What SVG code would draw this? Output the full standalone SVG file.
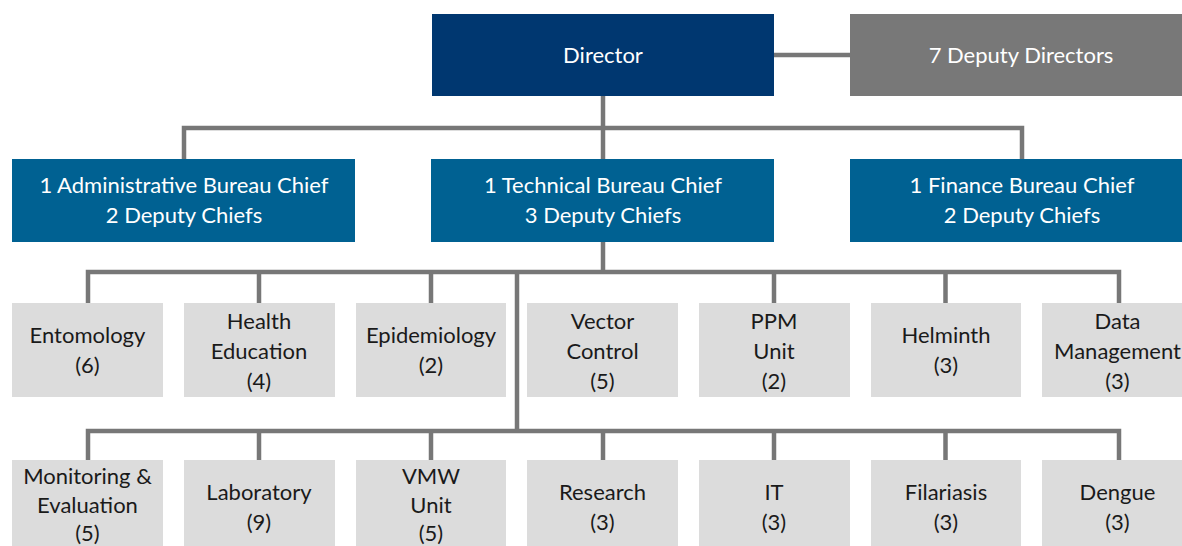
<svg xmlns="http://www.w3.org/2000/svg" width="1182" height="546" viewBox="0 0 1182 546">
<style>
.dir{fill:#003770}
.dep{fill:#787878}
.bur{fill:#006192}
.unit{fill:#dcdcdc}
.w{fill:#ffffff;font-family:Lato,"Liberation Sans",sans-serif;font-size:22px;text-anchor:middle}
.k{fill:#1a1a1a;font-family:Lato,"Liberation Sans",sans-serif;font-size:22px;text-anchor:middle}
.c{fill:none;stroke:#777777;stroke-width:4.5}
</style>
<rect width="1182" height="546" fill="#ffffff"/>
<g id="connectors">
<path class="c" d="M774 55H850"/>
<path class="c" d="M603 96V159M184 159V128H1022V159"/>
<path class="c" d="M603 242V272M88 303V272H1119V303M259 272V303M431 272V303M774 272V303M945.5 272V303"/>
<path class="c" d="M517 272V431M88 460V431H1119V460M259 431V460M431 431V460M603 431V460M774 431V460M945.5 431V460"/>
</g>
<g id="director"><rect class="dir" x="432" y="14" width="342" height="82"/><text class="w" x="603" y="63">Director</text></g>
<g id="deputy-directors"><rect class="dep" x="850" y="14" width="340" height="82"/><text class="w" x="1021" y="63">7 Deputy Directors</text></g>
<g id="admin-bureau"><rect class="bur" x="12" y="159" width="343" height="83"/><text class="w" x="184" y="193">1 Administrative Bureau Chief</text><text class="w" x="184" y="223">2 Deputy Chiefs</text></g>
<g id="technical-bureau"><rect class="bur" x="431" y="159" width="343" height="83"/><text class="w" x="603" y="193">1 Technical Bureau Chief</text><text class="w" x="603" y="223">3 Deputy Chiefs</text></g>
<g id="finance-bureau"><rect class="bur" x="850" y="159" width="340" height="83"/><text class="w" x="1022" y="193">1 Finance Bureau Chief</text><text class="w" x="1022" y="223">2 Deputy Chiefs</text></g>
<g id="entomology"><rect class="unit" x="12" y="303" width="151" height="94"/><text class="k" x="87.5" y="343">Entomology</text><text class="k" x="87.5" y="373">(6)</text></g>
<g id="health-education"><rect class="unit" x="184" y="303" width="151" height="94"/><text class="k" x="259" y="329">Health</text><text class="k" x="259" y="359">Education</text><text class="k" x="259" y="389">(4)</text></g>
<g id="epidemiology"><rect class="unit" x="356" y="303" width="150" height="94"/><text class="k" x="431" y="343">Epidemiology</text><text class="k" x="431" y="373">(2)</text></g>
<g id="vector-control"><rect class="unit" x="527" y="303" width="151" height="94"/><text class="k" x="602.5" y="329">Vector</text><text class="k" x="602.5" y="359">Control</text><text class="k" x="602.5" y="389">(5)</text></g>
<g id="ppm-unit"><rect class="unit" x="699" y="303" width="151" height="94"/><text class="k" x="774" y="329">PPM</text><text class="k" x="774" y="359">Unit</text><text class="k" x="774" y="389">(2)</text></g>
<g id="helminth"><rect class="unit" x="871" y="303" width="150" height="94"/><text class="k" x="946" y="343">Helminth</text><text class="k" x="946" y="373">(3)</text></g>
<g id="data-management"><rect class="unit" x="1042" y="303" width="151" height="94"/><text class="k" x="1117.5" y="329">Data</text><text class="k" x="1117.5" y="359">Management</text><text class="k" x="1117.5" y="389">(3)</text></g>
<g id="monitoring-evaluation"><rect class="unit" x="12" y="460" width="151" height="94"/><text class="k" x="87.5" y="484">Monitoring &amp;</text><text class="k" x="87.5" y="513">Evaluation</text><text class="k" x="87.5" y="541">(5)</text></g>
<g id="laboratory"><rect class="unit" x="184" y="460" width="151" height="94"/><text class="k" x="259" y="500">Laboratory</text><text class="k" x="259" y="530">(9)</text></g>
<g id="vmw-unit"><rect class="unit" x="356" y="460" width="150" height="94"/><text class="k" x="431" y="484">VMW</text><text class="k" x="431" y="513">Unit</text><text class="k" x="431" y="541">(5)</text></g>
<g id="research"><rect class="unit" x="527" y="460" width="151" height="94"/><text class="k" x="602.5" y="500">Research</text><text class="k" x="602.5" y="530">(3)</text></g>
<g id="it"><rect class="unit" x="699" y="460" width="151" height="94"/><text class="k" x="774" y="500">IT</text><text class="k" x="774" y="530">(3)</text></g>
<g id="filariasis"><rect class="unit" x="871" y="460" width="150" height="94"/><text class="k" x="946" y="500">Filariasis</text><text class="k" x="946" y="530">(3)</text></g>
<g id="dengue"><rect class="unit" x="1042" y="460" width="151" height="94"/><text class="k" x="1117.5" y="500">Dengue</text><text class="k" x="1117.5" y="530">(3)</text></g>
</svg>
